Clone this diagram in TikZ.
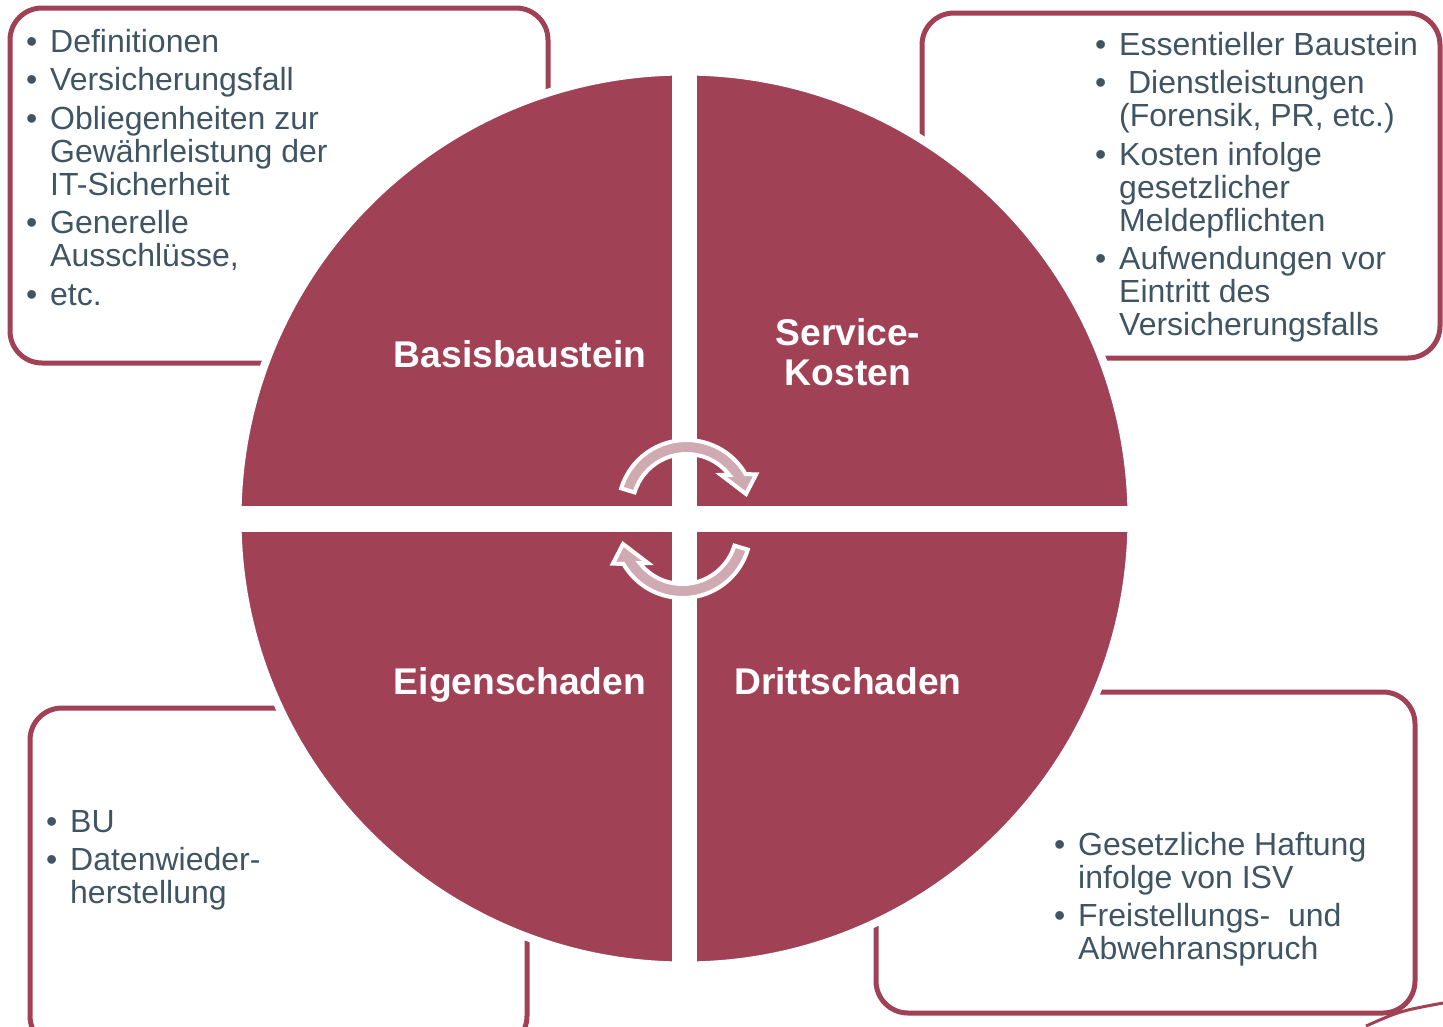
\documentclass[tikz,border=0pt]{standalone}
\usepackage{fontspec}
\setmainfont{Liberation Sans}
\definecolor{wine}{RGB}{161,65,85}
\definecolor{rose}{RGB}{208,170,178}
\definecolor{slate}{RGB}{64,85,99}
\newcommand{\bit}[1]{\par\hangindent=24pt\hangafter=1\noindent\makebox[24pt][l]{\textbullet}#1\par}
\newcommand{\notelist}[1]{\parbox[t]{420pt}{\setlength{\parskip}{5.5pt}#1}}
\tikzset{
notebox/.style={draw=wine, line width=5pt, rounded corners=32pt, fill=white},
notes/.style={anchor=base west, inner sep=0pt, text=slate, font=\fontsize{32}{33}\selectfont},
quarter/.style={text=white, inner sep=0pt, font=\bfseries\fontsize{37.2}{40}\selectfont},
turnarrow/.pic={
  \filldraw[fill=rose, draw=white, line width=4pt] (197:54.3) arc[start angle=197, end angle=322, radius=54.3]
    -- (316:48) -- (346.5:61.2) -- (334:77.5) -- (330:68.3)
    arc[start angle=330, end angle=197, radius=68.3] -- cycle;
  }
}
\begin{document}
\begin{tikzpicture}[x=1pt, y=-1pt]
\path[use as bounding box, clip] (0,0) rectangle (1443,1026);
\draw[notebox] (10,8) rectangle (548,363);
\draw[notebox] (922,13) rectangle (1440,358);
\draw[notebox] (30,708) rectangle (527,1048);
\draw[notebox] (876,692) rectangle (1415,1013);
\draw[wine, line width=3pt] (1366,1026) .. controls (1400,1011) .. (1443,1003);
\filldraw[fill=wine, draw=white, line width=8pt] (684.5,518.5) circle[radius=447];
\draw[white, line width=25pt] (684.5,66) -- (684.5,971);
\draw[white, line width=26pt] (232,519) -- (1137,519);
\pic at (686.5,508.3) {turnarrow};
\pic[rotate=180] at (682.5,529.7) {turnarrow};
\node[quarter, anchor=base] (basis) at (520,367) {Basisbaustein};
\node[quarter, align=center] (service) at (848,352) {Service-\\Kosten};
\node[quarter, anchor=base] (eigen) at (520,694) {Eigenschaden};
\node[quarter, anchor=base] (dritt) at (848,694) {Drittschaden};
\node[notes] (basisnotes) at (26,52) {\notelist{\bit{Definitionen}\bit{Versicherungsfall}\bit{Obliegenheiten zur\\Gewährleistung der\\IT-Sicherheit}\bit{Generelle\\Ausschlüsse,}\bit{etc.}}};
\node[notes] (servicenotes) at (1095,55) {\notelist{\bit{Essentieller Baustein}\bit{\ Dienstleistungen\\(Forensik, PR, etc.)}\bit{Kosten infolge\\gesetzlicher\\Meldepflichten}\bit{Aufwendungen vor\\Eintritt des\\Versicherungsfalls}}};
\node[notes] (eigennotes) at (46,832) {\notelist{\bit{BU}\bit{Datenwieder-\\herstellung}}};
\node[notes] (drittnotes) at (1054,855) {\notelist{\bit{Gesetzliche Haftung\\infolge von ISV}\bit{Freistellungs-\ \ und\\Abwehranspruch}}};
\end{tikzpicture}
\end{document}
